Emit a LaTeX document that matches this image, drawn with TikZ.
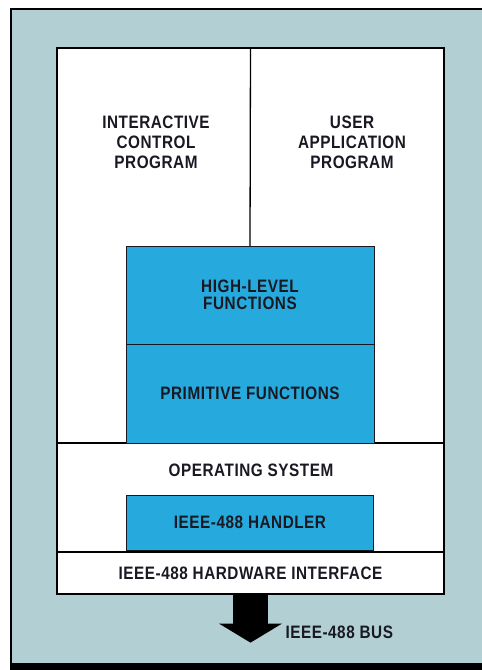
\documentclass[tikz,border=0pt]{standalone}
\usepackage{fontspec}
\setmainfont{Liberation Sans}[FakeStretch=0.85, LetterSpace=3]
\usepackage{tikz}
\usetikzlibrary{arrows.meta,positioning}
\usepackage{xcolor}
\definecolor{hpgray}{RGB}{178,207,212}
\definecolor{hpblue}{RGB}{38,170,222}
\definecolor{hpink}{RGB}{25,25,35}
\tikzstyle{layer} = [rectangle, draw=black, fill=white, line width=1.3pt, minimum width=387pt, inner sep=0pt, align=center]
\tikzstyle{fnblock} = [rectangle, draw=hpink, fill=hpblue, line width=1pt, minimum width=248pt, inner sep=0pt, align=center]
\tikzstyle{divider} = [line width=1.3pt, color=black]

\begin{document}
\begin{tikzpicture}[x=1pt, y=-1pt, font=\bfseries\fontsize{18}{20}\selectfont, text=hpink]
\useasboundingbox (0,0) rectangle (482,670);
% Backdrop
\fill[hpgray] (11,9) rectangle (482,666);
\draw[line width=2.5pt] (11,666) -- (11,9) -- (482,9);
\fill[black] (9.75,663) rectangle (482,670);

% Host box
\node[layer, line width=2pt, minimum height=546pt] (host) at (250.5,321) {};
\draw[divider] (host.north) -- (250,246);
\draw[divider] (host.west |- 0,443) -- (host.east |- 0,443);

% Program texts
\node[align=center] (icp) at (156,142) {INTERACTIVE\\CONTROL\\PROGRAM};
\node[align=center] (uap) at (352,142) {USER\\APPLICATION\\PROGRAM};
\node (os) at (251,470) {OPERATING SYSTEM};

% Function blocks
\node[fnblock, minimum height=98pt] (hlf) at (250,295) {HIGH-LEVEL\\[-3pt]FUNCTIONS};
\node[fnblock, minimum height=99pt] (prim) at (250,393.5) {PRIMITIVE FUNCTIONS};
\node[fnblock, minimum height=55pt, minimum width=247pt] (handler) at (250,522.5) {IEEE-488 HANDLER};
\node[layer, minimum height=42pt] (hw) at (250.5,573) {IEEE-488 HARDWARE INTERFACE};

% Bus arrow
\coordinate (bustip) at ([yshift=-48pt]hw.south);
\draw[line width=35pt, -{Triangle[width=62pt, length=19pt]}] (hw.south) -- (bustip);
\node[anchor=west] (bus) at (282,632) {IEEE-488 BUS};
\end{tikzpicture}
\end{document}
